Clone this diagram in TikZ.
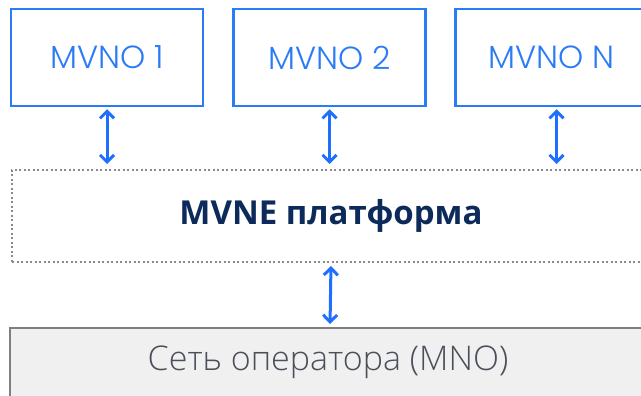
\documentclass[tikz,border=0pt]{standalone}
\usepackage{fontspec}
\usetikzlibrary{arrows.meta}
\newfontfamily\mvnofont{Poppins}[UprightFont={* Light}]
\newfontfamily\cyrfont{Open Sans}[UprightFont={* Light},BoldFont={* Bold}]
\definecolor{mblue}{HTML}{2A7BF6}
\definecolor{ablue}{HTML}{1F6FFF}
\definecolor{navy}{HTML}{0D2B5A}
\definecolor{dgray}{HTML}{8A8A8A}
\definecolor{bgray}{HTML}{7F7F7F}
\definecolor{fgray}{HTML}{F0F0F0}
\definecolor{tgray}{HTML}{4A4F5A}
\tikzset{
  mvnobox/.style={draw=mblue, line width=2.5pt, minimum width=192pt, minimum height=97pt, inner sep=0pt, text=mblue, font=\mvnofont\fontsize{32}{35}\selectfont},
  platbox/.style={draw=dgray, line width=2pt, dash pattern=on 2pt off 2.5pt, minimum width=638pt, minimum height=92pt, inner sep=0pt, text=navy, font=\cyrfont\bfseries\fontsize{33}{36}\selectfont},
  mnobox/.style={draw=bgray, fill=fgray, line width=2pt, minimum width=640pt, minimum height=80pt, inner sep=0pt},
  arr/.style={draw=ablue, line width=3pt, {Straight Barb[length=7pt,width=14pt]}-{Straight Barb[length=7pt,width=14pt]}, shorten <=2pt, shorten >=5pt}
}
\begin{document}
\begin{tikzpicture}[x=1pt,y=-1pt]
\useasboundingbox (0,0) rectangle (641,396);
\node[mvnobox] (m1) at (107,57.5) {MVNO 1};
\node[mvnobox] (m2) at (329.5,57.5) {MVNO 2};
\node[mvnobox] (mn) at (551.5,57.5) {MVNO N};
\node[platbox] (plat) at (331,216) {MVNE платформа};
\node[mnobox] (mno) at (330,368) {};
\node[text=tgray, font=\cyrfont\fontsize{34}{37}\selectfont] (mnot) at (328,362) {Сеть оператора (MNO)};
\draw[arr] (m1.south) -- (m1.south |- plat.north);
\draw[arr] (m2.south) -- (m2.south |- plat.north);
\draw[arr] ([xshift=5pt]mn.south) -- ([xshift=5pt]mn.south |- plat.north);
\draw[arr, shorten <=3pt, shorten >=3pt] (plat.south) -- (mno.north);
\end{tikzpicture}
\end{document}
